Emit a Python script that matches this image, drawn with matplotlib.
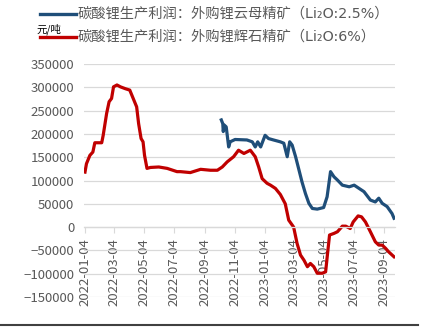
import matplotlib
matplotlib.use("Agg")
import matplotlib.pyplot as plt
import matplotlib.dates as mdates
from matplotlib.lines import Line2D
import pandas as pd

plt.rcParams['font.family'] = ['Noto Sans CJK SC', 'DejaVu Sans']

# 外购锂辉石精矿 (Li2O:6%)
red_dates = [
    "2022-01-04", "2022-01-07", "2022-01-14", "2022-01-20", "2022-01-24", "2022-01-31",
    "2022-02-07", "2022-02-10", "2022-02-17", "2022-02-22", "2022-02-27", "2022-03-03",
    "2022-03-10", "2022-03-17", "2022-03-27", "2022-04-05", "2022-04-12", "2022-04-19",
    "2022-04-23", "2022-04-28", "2022-05-02", "2022-05-05", "2022-05-10", "2022-05-17",
    "2022-06-03", "2022-06-20", "2022-07-10", "2022-07-17", "2022-08-06", "2022-08-27",
    "2022-09-16", "2022-09-30", "2022-10-10", "2022-10-20", "2022-11-02", "2022-11-12",
    "2022-11-23", "2022-12-06", "2022-12-16", "2022-12-23", "2022-12-30", "2023-01-09",
    "2023-01-16", "2023-01-26", "2023-02-05", "2023-02-15", "2023-02-22", "2023-03-04",
    "2023-03-11", "2023-03-18", "2023-03-25", "2023-04-01", "2023-04-07", "2023-04-14",
    "2023-04-21", "2023-05-01", "2023-05-08", "2023-05-12", "2023-05-16", "2023-05-25",
    "2023-06-01", "2023-06-11", "2023-06-18", "2023-06-27", "2023-07-03", "2023-07-13",
    "2023-07-20", "2023-07-28", "2023-08-07", "2023-08-17", "2023-08-24", "2023-08-31",
    "2023-09-07", "2023-09-13", "2023-09-24",
]
red_values = [
    118000, 136000, 154000, 161000, 181000, 181000,
    181000, 197000, 244000, 269000, 276000, 301000,
    305000, 301000, 297000, 294000, 276000, 258000,
    222000, 190000, 183000, 154000, 126000, 128000,
    129000, 126000, 119000, 119000, 117000, 124000,
    122000, 122000, 129000, 140000, 151000, 165000,
    158000, 165000, 151000, 129000, 104000, 94000,
    90000, 83000, 70000, 50000, 15000, 0,
    -35000, -60000, -71000, -85000, -78000, -85000,
    -99000, -99000, -96000, -56000, -17000, -13500,
    -10000, 2000, 2000, -3000, 11000, 24000,
    22000, 11000, -10000, -31500, -38600, -38600,
    -45700, -53000, -63700,
]

# 外购锂云母精矿 (Li2O:2.5%)
blue_dates = [
    "2022-10-08", "2022-10-11", "2022-10-12", "2022-10-14", "2022-10-18", "2022-10-23",
    "2022-10-26", "2022-11-05", "2022-11-29", "2022-12-10", "2022-12-16", "2022-12-21",
    "2022-12-27", "2023-01-05", "2023-01-12", "2023-01-22", "2023-02-05", "2023-02-12",
    "2023-02-13", "2023-02-19", "2023-02-24", "2023-03-01", "2023-03-08", "2023-03-15",
    "2023-03-21", "2023-03-28", "2023-04-04", "2023-04-11", "2023-04-21", "2023-05-04",
    "2023-05-11", "2023-05-18", "2023-05-25", "2023-06-01", "2023-06-11", "2023-06-25",
    "2023-07-05", "2023-07-15", "2023-07-25", "2023-08-07", "2023-08-17", "2023-08-24",
    "2023-08-31", "2023-09-10", "2023-09-20", "2023-09-24",
]
blue_values = [
    230000, 222000, 205000, 219000, 215000, 172000,
    183000, 188000, 187000, 183000, 172000, 183000,
    172000, 197000, 190000, 187000, 183000, 180000,
    176000, 151000, 183000, 176000, 151000, 122000,
    97000, 72000, 51000, 40000, 38600, 42000,
    65000, 119000, 108000, 101000, 90000, 86500,
    90000, 83000, 76000, 58000, 54000, 62000,
    51000, 44000, 29000, 19000,
]

legend_labels = [
    "碳酸锂生产利润：外购锂云母精矿（Li₂O:2.5%）",
    "碳酸锂生产利润：外购锂辉石精矿（Li₂O:6%）",
]
colors = ["#1F4E79", "#C00000"]
text_gray = "#595959"
grid_gray = "#D9D9D9"

fig = plt.figure(figsize=(4.29, 3.32), dpi=100)
ax = fig.add_axes([84 / 429, 35 / 332, 311 / 429, 233 / 332])

ax.plot(pd.to_datetime(blue_dates), blue_values, color=colors[0], lw=2.3, solid_joinstyle='round')
ax.plot(pd.to_datetime(red_dates), red_values, color=colors[1], lw=2.3, solid_joinstyle='round')

ax.set_ylim(-150000, 350000)
ax.set_yticks(range(-150000, 350001, 50000))
ax.set_xlim(pd.Timestamp("2022-01-02"), pd.Timestamp("2023-09-26"))
ax.xaxis.set_major_locator(mdates.MonthLocator(bymonth=range(1, 13, 2), bymonthday=4))
ax.xaxis.set_major_formatter(mdates.DateFormatter("%Y-%m-%d"))

ax.grid(axis='y', color=grid_gray, lw=0.9)
ax.set_axisbelow(True)
for side in ['left', 'right', 'top']:
    ax.spines[side].set_visible(False)
ax.spines['bottom'].set_position(('data', 0))
ax.spines['bottom'].set_color(grid_gray)
ax.spines['bottom'].set_linewidth(0.9)

ax.tick_params(axis='y', length=0, labelsize=9.5, labelcolor=text_gray, pad=7)
ax.tick_params(axis='x', length=4, color=grid_gray, labelsize=9.5, labelcolor=text_gray,
               labelrotation=90, pad=4)

# legend
for i, (lab, c) in enumerate(zip(legend_labels, colors)):
    yy = (332 - (14 + 23 * i)) / 332
    fig.add_artist(Line2D([40 / 429, 76 / 429], [yy, yy], color=c, lw=2.4,
                          transform=fig.transFigure))
    fig.text(78 / 429, yy, lab, fontsize=10.3, color=text_gray, va='center', ha='left',
             family=['DejaVu Sans', 'Noto Sans CJK SC'])

fig.text(36 / 429, (332 - 29) / 332, "元/吨", fontsize=7.5, color='black', va='center', ha='left')

# bottom frame line
fig.add_artist(Line2D([0, 418 / 429], [7 / 332, 7 / 332], color="#404040", lw=1.5,
                      transform=fig.transFigure))

fig.savefig("out.png", dpi=100)
